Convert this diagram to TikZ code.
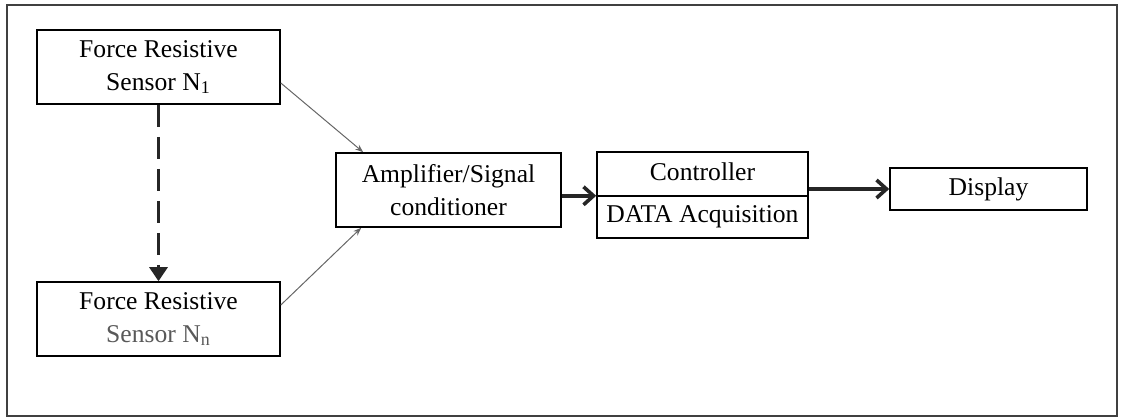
\documentclass[tikz,border=0pt]{standalone}
\usepackage{fontspec}
\setmainfont{Liberation Serif}
\usepackage{xcolor}
\usepackage{tikz}
\usetikzlibrary{arrows.meta,shapes.multipart}

\begin{document}
\begin{tikzpicture}[x=0.5pt, y=-0.5pt, every node/.style={font=\fontsize{12.8}{16.5}\selectfont},
  blockbox/.style={draw, line width=0.8pt, align=center, minimum height=37pt, inner sep=2pt},
  thinarrow/.style={-{Stealth[length=4pt,width=3pt]}, line width=0.5pt, black!60},
  thickarrow/.style={-{Straight Barb[length=5pt,width=9pt]}, line width=1.8pt, black!85}]
  \useasboundingbox (0,0) rectangle (1124,418);
  \draw[line width=0.75pt, black!75] (7,5) rectangle (1117,416);

  \node[blockbox, minimum width=121.5pt] (sens1) at (158.5,67)
      {Force Resistive\\Sensor N\textsubscript{1}};
  \node[blockbox, minimum width=121.5pt] (sensn) at (158.5,319)
      {Force Resistive\\\textcolor{black!65}{Sensor N\textsubscript{n}}};
  \node[blockbox, minimum width=112.5pt] (amp) at (448.5,190)
      {Amplifier/Signal\\conditioner};
  \node[draw, line width=0.8pt, rectangle split, rectangle split parts=2,
        minimum width=105.5pt, text height=9pt, text depth=3pt, inner ysep=4.5pt]
      (ctrl) at (702.5,195) {Controller \nodepart{two} DATA Acquisition};
  \node[blockbox, minimum width=98.5pt, minimum height=21pt] (disp) at (988.5,189) {Display};

  \draw[line width=1.5pt, black!85, dash pattern=on 11pt off 5pt,
        -{Triangle[length=7pt,width=9pt]}] (sens1) -- (sensn);
  \draw[thinarrow] ([yshift=-8pt]sens1.east) -- ([xshift=14pt]amp.north west);
  \draw[thinarrow] ([yshift=7pt]sensn.east)  -- ([xshift=13pt]amp.south west);
  \draw[thickarrow] (amp.east |- ctrl.text split west) -- (ctrl.text split west);
  \draw[thickarrow] (ctrl.east |- disp.west) -- (disp.west);
\end{tikzpicture}
\end{document}
